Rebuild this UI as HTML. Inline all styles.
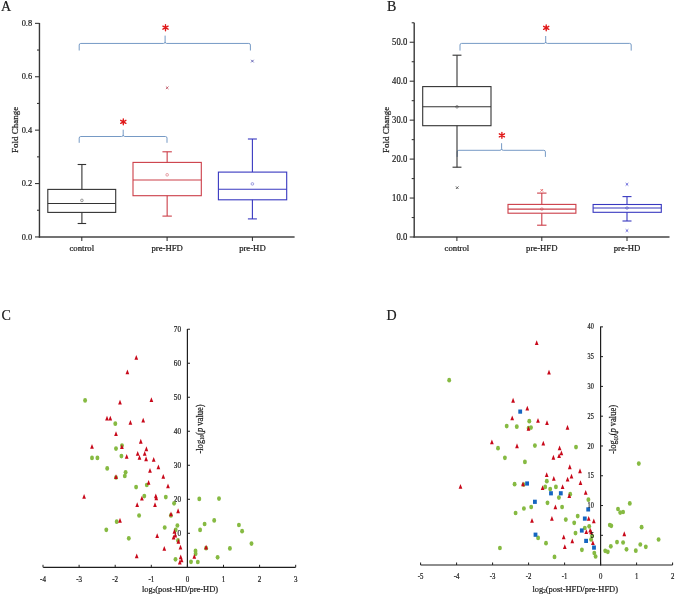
<!DOCTYPE html>
<html><head><meta charset="utf-8"><style>
html,body{margin:0;padding:0;background:#fff;width:675px;height:595px;overflow:hidden;}
svg{display:block;font-family:"Liberation Serif",serif;will-change:transform;}
text{fill:#1a1a1a;stroke:#1a1a1a;stroke-width:0.22px;}
</style></head><body>
<svg width="675" height="595" viewBox="0 0 675 595">
<rect width="675" height="595" fill="#fff"/>
<line x1="39.45" y1="23.00" x2="39.45" y2="237.60" stroke="#383838" stroke-width="1.4"/>
<line x1="38.80" y1="236.95" x2="294.60" y2="236.95" stroke="#444" stroke-width="1.5"/>
<line x1="35.00" y1="236.95" x2="39.50" y2="236.95" stroke="#383838" stroke-width="1.1"/>
<text transform="translate(32.1,239.50) scale(0.93,1)" font-size="9" text-anchor="end">0.0</text>
<line x1="35.00" y1="183.55" x2="39.50" y2="183.55" stroke="#383838" stroke-width="1.1"/>
<text transform="translate(32.1,186.10) scale(0.93,1)" font-size="9" text-anchor="end">0.2</text>
<line x1="35.00" y1="130.15" x2="39.50" y2="130.15" stroke="#383838" stroke-width="1.1"/>
<text transform="translate(32.1,132.70) scale(0.93,1)" font-size="9" text-anchor="end">0.4</text>
<line x1="35.00" y1="76.75" x2="39.50" y2="76.75" stroke="#383838" stroke-width="1.1"/>
<text transform="translate(32.1,79.30) scale(0.93,1)" font-size="9" text-anchor="end">0.6</text>
<line x1="35.00" y1="23.35" x2="39.50" y2="23.35" stroke="#383838" stroke-width="1.1"/>
<text transform="translate(32.1,25.90) scale(0.93,1)" font-size="9" text-anchor="end">0.8</text>
<line x1="37.00" y1="210.25" x2="39.50" y2="210.25" stroke="#383838" stroke-width="1.1"/>
<line x1="37.00" y1="156.85" x2="39.50" y2="156.85" stroke="#383838" stroke-width="1.1"/>
<line x1="37.00" y1="103.45" x2="39.50" y2="103.45" stroke="#383838" stroke-width="1.1"/>
<line x1="37.00" y1="50.05" x2="39.50" y2="50.05" stroke="#383838" stroke-width="1.1"/>
<line x1="81.80" y1="237.00" x2="81.80" y2="241.00" stroke="#2b2b2b" stroke-width="1"/>
<text x="81.8" y="251.2" font-size="8.7" text-anchor="middle" >control</text>
<line x1="167.10" y1="237.00" x2="167.10" y2="241.00" stroke="#2b2b2b" stroke-width="1"/>
<text x="167.1" y="251.2" font-size="8.7" text-anchor="middle" >pre-HFD</text>
<line x1="252.40" y1="237.00" x2="252.40" y2="241.00" stroke="#2b2b2b" stroke-width="1"/>
<text x="252.4" y="251.2" font-size="8.7" text-anchor="middle" >pre-HD</text>
<text transform="translate(17.6,129.8) rotate(-90)" font-size="9" text-anchor="middle">Fold Change</text>
<text x="1" y="10.8" font-size="14" text-anchor="start" >A</text>
<path d="M79.2 50.5L79.2 45.050000000000004Q79.2 43.45 80.8 43.45L163.5 43.45Q165.1 43.45 165.1 41.85L165.1 35.6M165.1 41.85Q165.1 43.45 166.7 43.45L248.8 43.45Q250.4 43.45 250.4 45.050000000000004L250.4 50.5" stroke="#6f95c2" stroke-width="0.95" fill="none"/>
<path d="M79.2 142.8L79.2 138.1Q79.2 136.5 80.8 136.5L121.60000000000001 136.5Q123.2 136.5 123.2 134.9L123.2 129.7M123.2 134.9Q123.2 136.5 124.8 136.5L165.4 136.5Q167.0 136.5 167.0 138.1L167.0 142.8" stroke="#6f95c2" stroke-width="0.95" fill="none"/>
<path d="M165.50 24.70L165.50 30.70M162.90 26.20L168.10 29.20M168.10 26.20L162.90 29.20" stroke="#e01818" stroke-width="1.35" stroke-linecap="round" fill="none"/>
<path d="M123.30 118.80L123.30 124.80M120.70 120.30L125.90 123.30M125.90 120.30L120.70 123.30" stroke="#e01818" stroke-width="1.35" stroke-linecap="round" fill="none"/>
<rect x="47.8" y="189.4" width="67.9" height="23.0" fill="none" stroke="#333333" stroke-width="1.1"/>
<line x1="47.80" y1="203.50" x2="115.70" y2="203.50" stroke="#333333" stroke-width="1.1"/>
<line x1="81.90" y1="189.40" x2="81.90" y2="164.50" stroke="#333333" stroke-width="1.1"/>
<line x1="81.90" y1="212.40" x2="81.90" y2="223.50" stroke="#333333" stroke-width="1.1"/>
<line x1="77.65" y1="164.50" x2="86.15" y2="164.50" stroke="#333333" stroke-width="1.1"/>
<line x1="77.65" y1="223.50" x2="86.15" y2="223.50" stroke="#333333" stroke-width="1.1"/>
<rect x="80.7" y="199.20000000000002" width="2.4" height="2.4" rx="0.8" fill="none" stroke="#333333" stroke-width="0.6" opacity="0.8"/>
<rect x="133.0" y="162.4" width="68.30000000000001" height="33.29999999999998" fill="none" stroke="#cc3e48" stroke-width="1.1"/>
<line x1="133.00" y1="180.00" x2="201.30" y2="180.00" stroke="#cc3e48" stroke-width="1.1"/>
<line x1="167.15" y1="162.40" x2="167.15" y2="151.80" stroke="#cc3e48" stroke-width="1.1"/>
<line x1="167.15" y1="195.70" x2="167.15" y2="216.10" stroke="#cc3e48" stroke-width="1.1"/>
<line x1="162.45" y1="151.80" x2="171.85" y2="151.80" stroke="#cc3e48" stroke-width="1.1"/>
<line x1="162.45" y1="216.10" x2="171.85" y2="216.10" stroke="#cc3e48" stroke-width="1.1"/>
<rect x="165.95000000000002" y="173.60000000000002" width="2.4" height="2.4" rx="0.8" fill="none" stroke="#cc3e48" stroke-width="0.6" opacity="0.8"/>
<rect x="218.4" y="172.1" width="68.29999999999998" height="27.700000000000017" fill="none" stroke="#3838c0" stroke-width="1.1"/>
<line x1="218.40" y1="189.30" x2="286.70" y2="189.30" stroke="#3838c0" stroke-width="1.1"/>
<line x1="252.40" y1="172.10" x2="252.40" y2="139.00" stroke="#3838c0" stroke-width="1.1"/>
<line x1="252.40" y1="199.80" x2="252.40" y2="218.90" stroke="#3838c0" stroke-width="1.1"/>
<line x1="247.90" y1="139.00" x2="256.90" y2="139.00" stroke="#3838c0" stroke-width="1.1"/>
<line x1="247.90" y1="218.90" x2="256.90" y2="218.90" stroke="#3838c0" stroke-width="1.1"/>
<rect x="251.20000000000002" y="182.70000000000002" width="2.4" height="2.4" rx="0.8" fill="none" stroke="#3838c0" stroke-width="0.6" opacity="0.8"/>
<path d="M165.89999999999998 86.5L168.5 89.1M165.89999999999998 89.1L168.5 86.5" stroke="#b84858" stroke-width="0.8" fill="none"/>
<path d="M251.1 59.800000000000004L253.70000000000002 62.4M251.1 62.4L253.70000000000002 59.800000000000004" stroke="#4848a8" stroke-width="0.8" fill="none"/>
<line x1="414.20" y1="22.80" x2="414.20" y2="237.60" stroke="#383838" stroke-width="1.4"/>
<line x1="413.50" y1="236.95" x2="669.50" y2="236.95" stroke="#444" stroke-width="1.5"/>
<line x1="409.70" y1="237.00" x2="414.20" y2="237.00" stroke="#383838" stroke-width="1.1"/>
<text transform="translate(407.2,239.85) scale(0.9,1)" font-size="9.6" text-anchor="end">0.0</text>
<line x1="409.70" y1="198.05" x2="414.20" y2="198.05" stroke="#383838" stroke-width="1.1"/>
<text transform="translate(407.2,200.90) scale(0.9,1)" font-size="9.6" text-anchor="end">10.0</text>
<line x1="409.70" y1="159.10" x2="414.20" y2="159.10" stroke="#383838" stroke-width="1.1"/>
<text transform="translate(407.2,161.95) scale(0.9,1)" font-size="9.6" text-anchor="end">20.0</text>
<line x1="409.70" y1="120.15" x2="414.20" y2="120.15" stroke="#383838" stroke-width="1.1"/>
<text transform="translate(407.2,123.00) scale(0.9,1)" font-size="9.6" text-anchor="end">30.0</text>
<line x1="409.70" y1="81.20" x2="414.20" y2="81.20" stroke="#383838" stroke-width="1.1"/>
<text transform="translate(407.2,84.05) scale(0.9,1)" font-size="9.6" text-anchor="end">40.0</text>
<line x1="409.70" y1="42.25" x2="414.20" y2="42.25" stroke="#383838" stroke-width="1.1"/>
<text transform="translate(407.2,45.10) scale(0.9,1)" font-size="9.6" text-anchor="end">50.0</text>
<line x1="411.70" y1="217.53" x2="414.20" y2="217.53" stroke="#383838" stroke-width="1.1"/>
<line x1="411.70" y1="178.57" x2="414.20" y2="178.57" stroke="#383838" stroke-width="1.1"/>
<line x1="411.70" y1="139.62" x2="414.20" y2="139.62" stroke="#383838" stroke-width="1.1"/>
<line x1="411.70" y1="100.67" x2="414.20" y2="100.67" stroke="#383838" stroke-width="1.1"/>
<line x1="411.70" y1="61.72" x2="414.20" y2="61.72" stroke="#383838" stroke-width="1.1"/>
<line x1="411.70" y1="22.77" x2="414.20" y2="22.77" stroke="#383838" stroke-width="1.1"/>
<line x1="456.90" y1="236.90" x2="456.90" y2="241.00" stroke="#2b2b2b" stroke-width="1"/>
<text x="456.9" y="251.2" font-size="8.7" text-anchor="middle" >control</text>
<line x1="541.80" y1="236.90" x2="541.80" y2="241.00" stroke="#2b2b2b" stroke-width="1"/>
<text x="541.8" y="251.2" font-size="8.7" text-anchor="middle" >pre-HFD</text>
<line x1="627.00" y1="236.90" x2="627.00" y2="241.00" stroke="#2b2b2b" stroke-width="1"/>
<text x="627.0" y="251.2" font-size="8.7" text-anchor="middle" >pre-HD</text>
<text transform="translate(388.6,129.8) rotate(-90)" font-size="9" text-anchor="middle">Fold Change</text>
<text x="387" y="10.7" font-size="14" text-anchor="start" >B</text>
<path d="M460.0 50.6L460.0 45.0Q460.0 43.4 461.6 43.4L544.1 43.4Q545.7 43.4 545.7 41.8L545.7 36.0M545.7 41.8Q545.7 43.4 547.3000000000001 43.4L629.6 43.4Q631.2 43.4 631.2 45.0L631.2 50.6" stroke="#6f95c2" stroke-width="0.95" fill="none"/>
<path d="M457.2 156.9L457.2 151.9Q457.2 150.3 458.8 150.3L500.0 150.3Q501.6 150.3 501.6 148.70000000000002L501.6 143.2M501.6 148.70000000000002Q501.6 150.3 503.20000000000005 150.3L543.8 150.3Q545.4 150.3 545.4 151.9L545.4 156.9" stroke="#6f95c2" stroke-width="0.95" fill="none"/>
<path d="M546.20 24.80L546.20 30.80M543.60 26.30L548.80 29.30M548.80 26.30L543.60 29.30" stroke="#e01818" stroke-width="1.35" stroke-linecap="round" fill="none"/>
<path d="M501.90 132.30L501.90 138.30M499.30 133.80L504.50 136.80M504.50 133.80L499.30 136.80" stroke="#e01818" stroke-width="1.35" stroke-linecap="round" fill="none"/>
<rect x="422.7" y="86.6" width="68.30000000000001" height="39.10000000000001" fill="none" stroke="#333333" stroke-width="1.1"/>
<line x1="422.70" y1="106.80" x2="491.00" y2="106.80" stroke="#333333" stroke-width="1.1"/>
<line x1="457.00" y1="86.60" x2="457.00" y2="55.20" stroke="#333333" stroke-width="1.1"/>
<line x1="457.00" y1="125.70" x2="457.00" y2="167.20" stroke="#333333" stroke-width="1.1"/>
<line x1="452.55" y1="55.20" x2="461.45" y2="55.20" stroke="#333333" stroke-width="1.1"/>
<line x1="452.55" y1="167.20" x2="461.45" y2="167.20" stroke="#333333" stroke-width="1.1"/>
<rect x="455.8" y="105.6" width="2.4" height="2.4" rx="0.8" fill="none" stroke="#333333" stroke-width="0.6" opacity="0.8"/>
<rect x="508.0" y="204.4" width="67.89999999999998" height="8.799999999999983" fill="none" stroke="#cc3e48" stroke-width="1.1"/>
<line x1="508.00" y1="209.10" x2="575.90" y2="209.10" stroke="#cc3e48" stroke-width="1.1"/>
<line x1="541.80" y1="204.40" x2="541.80" y2="193.10" stroke="#cc3e48" stroke-width="1.1"/>
<line x1="541.80" y1="213.20" x2="541.80" y2="225.20" stroke="#cc3e48" stroke-width="1.1"/>
<line x1="537.10" y1="193.10" x2="546.50" y2="193.10" stroke="#cc3e48" stroke-width="1.1"/>
<line x1="537.10" y1="225.20" x2="546.50" y2="225.20" stroke="#cc3e48" stroke-width="1.1"/>
<rect x="540.5999999999999" y="207.9" width="2.4" height="2.4" rx="0.8" fill="none" stroke="#cc3e48" stroke-width="0.6" opacity="0.8"/>
<rect x="593.1" y="204.5" width="68.19999999999993" height="7.800000000000011" fill="none" stroke="#3838c0" stroke-width="1.1"/>
<line x1="593.10" y1="208.00" x2="661.30" y2="208.00" stroke="#3838c0" stroke-width="1.1"/>
<line x1="627.00" y1="204.50" x2="627.00" y2="196.60" stroke="#3838c0" stroke-width="1.1"/>
<line x1="627.00" y1="212.30" x2="627.00" y2="221.00" stroke="#3838c0" stroke-width="1.1"/>
<line x1="622.50" y1="196.60" x2="631.50" y2="196.60" stroke="#3838c0" stroke-width="1.1"/>
<line x1="622.50" y1="221.00" x2="631.50" y2="221.00" stroke="#3838c0" stroke-width="1.1"/>
<rect x="625.8" y="206.8" width="2.4" height="2.4" rx="0.8" fill="none" stroke="#3838c0" stroke-width="0.6" opacity="0.8"/>
<path d="M455.9 186.39999999999998L458.5 189.0M455.9 189.0L458.5 186.39999999999998" stroke="#404040" stroke-width="0.8" fill="none"/>
<path d="M540.5 189.0L543.0999999999999 191.60000000000002M540.5 191.60000000000002L543.0999999999999 189.0" stroke="#e05050" stroke-width="0.8" fill="none"/>
<path d="M625.7 183.0L628.3 185.60000000000002M625.7 185.60000000000002L628.3 183.0" stroke="#4040d0" stroke-width="0.8" fill="none"/>
<path d="M625.7 229.29999999999998L628.3 231.9M625.7 231.9L628.3 229.29999999999998" stroke="#4040d0" stroke-width="0.8" fill="none"/>
<line x1="187.40" y1="329.00" x2="187.40" y2="567.60" stroke="#1e1e1e" stroke-width="1.2"/>
<line x1="43.20" y1="567.30" x2="295.60" y2="567.30" stroke="#1e1e1e" stroke-width="1.2"/>
<line x1="187.40" y1="533.29" x2="190.00" y2="533.29" stroke="#1e1e1e" stroke-width="1"/>
<text transform="translate(181.0,536.0) scale(0.9,1)" font-size="8" text-anchor="end">10</text>
<line x1="187.40" y1="499.28" x2="190.00" y2="499.28" stroke="#1e1e1e" stroke-width="1"/>
<text transform="translate(181.0,502.0) scale(0.9,1)" font-size="8" text-anchor="end">20</text>
<line x1="187.40" y1="465.27" x2="190.00" y2="465.27" stroke="#1e1e1e" stroke-width="1"/>
<text transform="translate(181.0,468.0) scale(0.9,1)" font-size="8" text-anchor="end">30</text>
<line x1="187.40" y1="431.26" x2="190.00" y2="431.26" stroke="#1e1e1e" stroke-width="1"/>
<text transform="translate(181.0,434.0) scale(0.9,1)" font-size="8" text-anchor="end">40</text>
<line x1="187.40" y1="397.25" x2="190.00" y2="397.25" stroke="#1e1e1e" stroke-width="1"/>
<text transform="translate(181.0,399.9) scale(0.9,1)" font-size="8" text-anchor="end">50</text>
<line x1="187.40" y1="363.24" x2="190.00" y2="363.24" stroke="#1e1e1e" stroke-width="1"/>
<text transform="translate(181.0,365.9) scale(0.9,1)" font-size="8" text-anchor="end">60</text>
<line x1="187.40" y1="329.23" x2="190.00" y2="329.23" stroke="#1e1e1e" stroke-width="1"/>
<text transform="translate(181.0,331.9) scale(0.9,1)" font-size="8" text-anchor="end">70</text>
<line x1="43.00" y1="567.30" x2="43.00" y2="564.80" stroke="#1e1e1e" stroke-width="1"/>
<text transform="translate(43.0,581.8) scale(0.88,1)" font-size="8" text-anchor="middle">-4</text>
<line x1="79.10" y1="567.30" x2="79.10" y2="564.80" stroke="#1e1e1e" stroke-width="1"/>
<text transform="translate(79.1,581.8) scale(0.88,1)" font-size="8" text-anchor="middle">-3</text>
<line x1="115.20" y1="567.30" x2="115.20" y2="564.80" stroke="#1e1e1e" stroke-width="1"/>
<text transform="translate(115.2,581.8) scale(0.88,1)" font-size="8" text-anchor="middle">-2</text>
<line x1="151.30" y1="567.30" x2="151.30" y2="564.80" stroke="#1e1e1e" stroke-width="1"/>
<text transform="translate(151.3,581.8) scale(0.88,1)" font-size="8" text-anchor="middle">-1</text>
<line x1="187.40" y1="567.30" x2="187.40" y2="564.80" stroke="#1e1e1e" stroke-width="1"/>
<text transform="translate(187.4,581.8) scale(0.88,1)" font-size="8" text-anchor="middle">0</text>
<line x1="223.50" y1="567.30" x2="223.50" y2="564.80" stroke="#1e1e1e" stroke-width="1"/>
<text transform="translate(223.5,581.8) scale(0.88,1)" font-size="8" text-anchor="middle">1</text>
<line x1="259.60" y1="567.30" x2="259.60" y2="564.80" stroke="#1e1e1e" stroke-width="1"/>
<text transform="translate(259.6,581.8) scale(0.88,1)" font-size="8" text-anchor="middle">2</text>
<line x1="295.70" y1="567.30" x2="295.70" y2="564.80" stroke="#1e1e1e" stroke-width="1"/>
<text transform="translate(295.7,581.8) scale(0.88,1)" font-size="8" text-anchor="middle">3</text>
<text x="141.9" y="591.7" font-size="9" textLength="76.2" lengthAdjust="spacingAndGlyphs">log<tspan font-size="5.5" dy="1.6">2</tspan><tspan dy="-1.6">(post-HD/pre-HD)</tspan></text>
<text transform="translate(202.6,453.6) rotate(-90)" font-size="9.6" textLength="49.3" lengthAdjust="spacingAndGlyphs">-log<tspan font-size="5.5" dy="1.6">10</tspan><tspan dy="-1.6">(</tspan><tspan font-style="italic">p</tspan> value)</text>
<text x="1.6" y="320.0" font-size="14" text-anchor="start" >C</text>
<ellipse cx="85.1" cy="400.4" rx="1.95" ry="2.35" fill="#86ba42"/>
<ellipse cx="115.3" cy="423.7" rx="1.95" ry="2.35" fill="#86ba42"/>
<ellipse cx="116.0" cy="448.6" rx="1.95" ry="2.35" fill="#86ba42"/>
<ellipse cx="121.4" cy="456.1" rx="1.95" ry="2.35" fill="#86ba42"/>
<ellipse cx="92.0" cy="457.9" rx="1.95" ry="2.35" fill="#86ba42"/>
<ellipse cx="97.4" cy="457.9" rx="1.95" ry="2.35" fill="#86ba42"/>
<ellipse cx="107.2" cy="468.4" rx="1.95" ry="2.35" fill="#86ba42"/>
<ellipse cx="125.6" cy="472.3" rx="1.95" ry="2.35" fill="#86ba42"/>
<ellipse cx="124.8" cy="476.0" rx="1.95" ry="2.35" fill="#86ba42"/>
<ellipse cx="116.0" cy="477.5" rx="1.95" ry="2.35" fill="#86ba42"/>
<ellipse cx="146.8" cy="485.0" rx="1.95" ry="2.35" fill="#86ba42"/>
<ellipse cx="136.1" cy="487.1" rx="1.95" ry="2.35" fill="#86ba42"/>
<ellipse cx="144.3" cy="496.1" rx="1.95" ry="2.35" fill="#86ba42"/>
<ellipse cx="165.8" cy="497.1" rx="1.95" ry="2.35" fill="#86ba42"/>
<ellipse cx="174.1" cy="503.3" rx="1.95" ry="2.35" fill="#86ba42"/>
<ellipse cx="139.1" cy="515.5" rx="1.95" ry="2.35" fill="#86ba42"/>
<ellipse cx="116.7" cy="521.7" rx="1.95" ry="2.35" fill="#86ba42"/>
<ellipse cx="106.3" cy="529.8" rx="1.95" ry="2.35" fill="#86ba42"/>
<ellipse cx="128.8" cy="538.3" rx="1.95" ry="2.35" fill="#86ba42"/>
<ellipse cx="177.4" cy="525.5" rx="1.95" ry="2.35" fill="#86ba42"/>
<ellipse cx="164.7" cy="527.5" rx="1.95" ry="2.35" fill="#86ba42"/>
<ellipse cx="175.7" cy="529.8" rx="1.95" ry="2.35" fill="#86ba42"/>
<ellipse cx="178.0" cy="540.4" rx="1.95" ry="2.35" fill="#86ba42"/>
<ellipse cx="175.5" cy="559.3" rx="1.95" ry="2.35" fill="#86ba42"/>
<ellipse cx="199.3" cy="498.9" rx="1.95" ry="2.35" fill="#86ba42"/>
<ellipse cx="219.0" cy="498.6" rx="1.95" ry="2.35" fill="#86ba42"/>
<ellipse cx="214.2" cy="520.4" rx="1.95" ry="2.35" fill="#86ba42"/>
<ellipse cx="204.6" cy="524.0" rx="1.95" ry="2.35" fill="#86ba42"/>
<ellipse cx="200.1" cy="529.9" rx="1.95" ry="2.35" fill="#86ba42"/>
<ellipse cx="238.9" cy="525.0" rx="1.95" ry="2.35" fill="#86ba42"/>
<ellipse cx="242.1" cy="531.2" rx="1.95" ry="2.35" fill="#86ba42"/>
<ellipse cx="251.5" cy="543.6" rx="1.95" ry="2.35" fill="#86ba42"/>
<ellipse cx="229.9" cy="548.4" rx="1.95" ry="2.35" fill="#86ba42"/>
<ellipse cx="195.5" cy="550.9" rx="1.95" ry="2.35" fill="#86ba42"/>
<ellipse cx="195.6" cy="553.8" rx="1.95" ry="2.35" fill="#86ba42"/>
<ellipse cx="217.6" cy="557.3" rx="1.95" ry="2.35" fill="#86ba42"/>
<ellipse cx="191.0" cy="561.8" rx="1.95" ry="2.35" fill="#86ba42"/>
<ellipse cx="197.8" cy="562.0" rx="1.95" ry="2.35" fill="#86ba42"/>
<ellipse cx="206.1" cy="548.2" rx="1.95" ry="2.35" fill="#86ba42"/>
<ellipse cx="122.0" cy="445.6" rx="1.95" ry="2.35" fill="#86ba42"/>
<ellipse cx="170.9" cy="515.4" rx="1.95" ry="2.35" fill="#86ba42"/>
<path d="M136.30 354.95L138.15 359.75L134.45 359.75Z" fill="#c8081a"/>
<path d="M127.40 369.55L129.25 374.35L125.55 374.35Z" fill="#c8081a"/>
<path d="M120.00 399.75L121.85 404.55L118.15 404.55Z" fill="#c8081a"/>
<path d="M151.40 397.25L153.25 402.05L149.55 402.05Z" fill="#c8081a"/>
<path d="M107.00 415.75L108.85 420.55L105.15 420.55Z" fill="#c8081a"/>
<path d="M110.30 415.75L112.15 420.55L108.45 420.55Z" fill="#c8081a"/>
<path d="M130.40 420.05L132.25 424.85L128.55 424.85Z" fill="#c8081a"/>
<path d="M143.20 417.75L145.05 422.55L141.35 422.55Z" fill="#c8081a"/>
<path d="M116.00 431.15L117.85 435.95L114.15 435.95Z" fill="#c8081a"/>
<path d="M92.00 444.05L93.85 448.85L90.15 448.85Z" fill="#c8081a"/>
<path d="M121.90 444.25L123.75 449.05L120.05 449.05Z" fill="#c8081a"/>
<path d="M140.80 438.85L142.65 443.65L138.95 443.65Z" fill="#c8081a"/>
<path d="M146.40 446.35L148.25 451.15L144.55 451.15Z" fill="#c8081a"/>
<path d="M137.70 450.95L139.55 455.75L135.85 455.75Z" fill="#c8081a"/>
<path d="M139.50 455.05L141.35 459.85L137.65 459.85Z" fill="#c8081a"/>
<path d="M144.70 450.95L146.55 455.75L142.85 455.75Z" fill="#c8081a"/>
<path d="M146.10 456.35L147.95 461.15L144.25 461.15Z" fill="#c8081a"/>
<path d="M153.70 457.05L155.55 461.85L151.85 461.85Z" fill="#c8081a"/>
<path d="M158.40 464.55L160.25 469.35L156.55 469.35Z" fill="#c8081a"/>
<path d="M126.70 454.05L128.55 458.85L124.85 458.85Z" fill="#c8081a"/>
<path d="M150.00 468.05L151.85 472.85L148.15 472.85Z" fill="#c8081a"/>
<path d="M116.00 474.15L117.85 478.95L114.15 478.95Z" fill="#c8081a"/>
<path d="M163.30 473.95L165.15 478.75L161.45 478.75Z" fill="#c8081a"/>
<path d="M148.60 480.05L150.45 484.85L146.75 484.85Z" fill="#c8081a"/>
<path d="M168.00 483.55L169.85 488.35L166.15 488.35Z" fill="#c8081a"/>
<path d="M84.10 494.05L85.95 498.85L82.25 498.85Z" fill="#c8081a"/>
<path d="M141.90 495.75L143.75 500.55L140.05 500.55Z" fill="#c8081a"/>
<path d="M155.80 493.55L157.65 498.35L153.95 498.35Z" fill="#c8081a"/>
<path d="M156.30 495.45L158.15 500.25L154.45 500.25Z" fill="#c8081a"/>
<path d="M137.20 502.25L139.05 507.05L135.35 507.05Z" fill="#c8081a"/>
<path d="M155.00 502.25L156.85 507.05L153.15 507.05Z" fill="#c8081a"/>
<path d="M171.00 511.55L172.85 516.35L169.15 516.35Z" fill="#c8081a"/>
<path d="M178.10 508.35L179.95 513.15L176.25 513.15Z" fill="#c8081a"/>
<path d="M120.00 517.85L121.85 522.65L118.15 522.65Z" fill="#c8081a"/>
<path d="M174.40 528.95L176.25 533.75L172.55 533.75Z" fill="#c8081a"/>
<path d="M175.30 532.65L177.15 537.45L173.45 537.45Z" fill="#c8081a"/>
<path d="M173.60 534.75L175.45 539.55L171.75 539.55Z" fill="#c8081a"/>
<path d="M157.20 533.15L159.05 537.95L155.35 537.95Z" fill="#c8081a"/>
<path d="M178.40 538.85L180.25 543.65L176.55 543.65Z" fill="#c8081a"/>
<path d="M180.50 544.75L182.35 549.55L178.65 549.55Z" fill="#c8081a"/>
<path d="M164.30 546.05L166.15 550.85L162.45 550.85Z" fill="#c8081a"/>
<path d="M136.70 553.55L138.55 558.35L134.85 558.35Z" fill="#c8081a"/>
<path d="M180.70 554.55L182.55 559.35L178.85 559.35Z" fill="#c8081a"/>
<path d="M181.60 557.55L183.45 562.35L179.75 562.35Z" fill="#c8081a"/>
<path d="M179.80 559.65L181.65 564.45L177.95 564.45Z" fill="#c8081a"/>
<path d="M206.10 544.75L207.95 549.55L204.25 549.55Z" fill="#c8081a"/>
<path d="M194.30 553.95L196.15 558.75L192.45 558.75Z" fill="#c8081a"/>
<line x1="600.60" y1="326.50" x2="600.60" y2="565.40" stroke="#1e1e1e" stroke-width="1.2"/>
<line x1="420.60" y1="565.00" x2="672.60" y2="565.00" stroke="#1e1e1e" stroke-width="1.2"/>
<ellipse cx="449.2" cy="380.2" rx="1.95" ry="2.35" fill="#86ba42"/>
<ellipse cx="529.3" cy="421.2" rx="1.95" ry="2.35" fill="#86ba42"/>
<ellipse cx="506.7" cy="426.1" rx="1.95" ry="2.35" fill="#86ba42"/>
<ellipse cx="516.8" cy="426.7" rx="1.95" ry="2.35" fill="#86ba42"/>
<ellipse cx="531.0" cy="427.6" rx="1.95" ry="2.35" fill="#86ba42"/>
<ellipse cx="534.9" cy="445.6" rx="1.95" ry="2.35" fill="#86ba42"/>
<ellipse cx="576.0" cy="447.1" rx="1.95" ry="2.35" fill="#86ba42"/>
<ellipse cx="498.0" cy="448.2" rx="1.95" ry="2.35" fill="#86ba42"/>
<ellipse cx="504.9" cy="457.8" rx="1.95" ry="2.35" fill="#86ba42"/>
<ellipse cx="524.9" cy="461.9" rx="1.95" ry="2.35" fill="#86ba42"/>
<ellipse cx="514.6" cy="484.2" rx="1.95" ry="2.35" fill="#86ba42"/>
<ellipse cx="546.8" cy="481.2" rx="1.95" ry="2.35" fill="#86ba42"/>
<ellipse cx="545.2" cy="486.9" rx="1.95" ry="2.35" fill="#86ba42"/>
<ellipse cx="550.2" cy="489.0" rx="1.95" ry="2.35" fill="#86ba42"/>
<ellipse cx="555.9" cy="486.9" rx="1.95" ry="2.35" fill="#86ba42"/>
<ellipse cx="570.2" cy="494.2" rx="1.95" ry="2.35" fill="#86ba42"/>
<ellipse cx="558.9" cy="497.6" rx="1.95" ry="2.35" fill="#86ba42"/>
<ellipse cx="547.5" cy="502.8" rx="1.95" ry="2.35" fill="#86ba42"/>
<ellipse cx="531.2" cy="507.0" rx="1.95" ry="2.35" fill="#86ba42"/>
<ellipse cx="523.9" cy="508.5" rx="1.95" ry="2.35" fill="#86ba42"/>
<ellipse cx="515.6" cy="513.0" rx="1.95" ry="2.35" fill="#86ba42"/>
<ellipse cx="588.4" cy="499.7" rx="1.95" ry="2.35" fill="#86ba42"/>
<ellipse cx="562.1" cy="507.0" rx="1.95" ry="2.35" fill="#86ba42"/>
<ellipse cx="565.8" cy="519.6" rx="1.95" ry="2.35" fill="#86ba42"/>
<ellipse cx="577.7" cy="516.1" rx="1.95" ry="2.35" fill="#86ba42"/>
<ellipse cx="574.2" cy="522.8" rx="1.95" ry="2.35" fill="#86ba42"/>
<ellipse cx="589.2" cy="526.3" rx="1.95" ry="2.35" fill="#86ba42"/>
<ellipse cx="584.8" cy="528.0" rx="1.95" ry="2.35" fill="#86ba42"/>
<ellipse cx="575.5" cy="533.1" rx="1.95" ry="2.35" fill="#86ba42"/>
<ellipse cx="538.1" cy="537.9" rx="1.95" ry="2.35" fill="#86ba42"/>
<ellipse cx="592.0" cy="536.1" rx="1.95" ry="2.35" fill="#86ba42"/>
<ellipse cx="591.1" cy="539.5" rx="1.95" ry="2.35" fill="#86ba42"/>
<ellipse cx="546.0" cy="543.2" rx="1.95" ry="2.35" fill="#86ba42"/>
<ellipse cx="581.9" cy="549.8" rx="1.95" ry="2.35" fill="#86ba42"/>
<ellipse cx="594.3" cy="553.0" rx="1.95" ry="2.35" fill="#86ba42"/>
<ellipse cx="595.6" cy="556.5" rx="1.95" ry="2.35" fill="#86ba42"/>
<ellipse cx="554.5" cy="556.9" rx="1.95" ry="2.35" fill="#86ba42"/>
<ellipse cx="499.9" cy="548.0" rx="1.95" ry="2.35" fill="#86ba42"/>
<ellipse cx="638.8" cy="463.6" rx="1.95" ry="2.35" fill="#86ba42"/>
<ellipse cx="629.8" cy="503.4" rx="1.95" ry="2.35" fill="#86ba42"/>
<ellipse cx="618.0" cy="509.0" rx="1.95" ry="2.35" fill="#86ba42"/>
<ellipse cx="620.2" cy="512.6" rx="1.95" ry="2.35" fill="#86ba42"/>
<ellipse cx="623.1" cy="512.0" rx="1.95" ry="2.35" fill="#86ba42"/>
<ellipse cx="609.8" cy="525.0" rx="1.95" ry="2.35" fill="#86ba42"/>
<ellipse cx="611.3" cy="525.8" rx="1.95" ry="2.35" fill="#86ba42"/>
<ellipse cx="641.6" cy="527.2" rx="1.95" ry="2.35" fill="#86ba42"/>
<ellipse cx="658.6" cy="539.5" rx="1.95" ry="2.35" fill="#86ba42"/>
<ellipse cx="617.0" cy="542.1" rx="1.95" ry="2.35" fill="#86ba42"/>
<ellipse cx="623.1" cy="542.5" rx="1.95" ry="2.35" fill="#86ba42"/>
<ellipse cx="610.8" cy="546.3" rx="1.95" ry="2.35" fill="#86ba42"/>
<ellipse cx="640.3" cy="544.5" rx="1.95" ry="2.35" fill="#86ba42"/>
<ellipse cx="645.8" cy="546.8" rx="1.95" ry="2.35" fill="#86ba42"/>
<ellipse cx="626.5" cy="549.3" rx="1.95" ry="2.35" fill="#86ba42"/>
<ellipse cx="605.2" cy="550.8" rx="1.95" ry="2.35" fill="#86ba42"/>
<ellipse cx="607.8" cy="551.8" rx="1.95" ry="2.35" fill="#86ba42"/>
<ellipse cx="635.8" cy="550.7" rx="1.95" ry="2.35" fill="#86ba42"/>
<ellipse cx="523.6" cy="484.6" rx="1.95" ry="2.35" fill="#86ba42"/>
<ellipse cx="528.6" cy="428.0" rx="1.95" ry="2.35" fill="#86ba42"/>
<path d="M536.70 340.25L538.55 345.05L534.85 345.05Z" fill="#c8081a"/>
<path d="M549.00 369.75L550.85 374.55L547.15 374.55Z" fill="#c8081a"/>
<path d="M513.10 397.85L514.95 402.65L511.25 402.65Z" fill="#c8081a"/>
<path d="M527.30 405.65L529.15 410.45L525.45 410.45Z" fill="#c8081a"/>
<path d="M512.20 415.45L514.05 420.25L510.35 420.25Z" fill="#c8081a"/>
<path d="M538.00 417.95L539.85 422.75L536.15 422.75Z" fill="#c8081a"/>
<path d="M547.00 420.25L548.85 425.05L545.15 425.05Z" fill="#c8081a"/>
<path d="M528.50 425.95L530.35 430.75L526.65 430.75Z" fill="#c8081a"/>
<path d="M567.50 424.85L569.35 429.65L565.65 429.65Z" fill="#c8081a"/>
<path d="M491.90 439.55L493.75 444.35L490.05 444.35Z" fill="#c8081a"/>
<path d="M517.00 443.35L518.85 448.15L515.15 448.15Z" fill="#c8081a"/>
<path d="M543.30 440.75L545.15 445.55L541.45 445.55Z" fill="#c8081a"/>
<path d="M559.60 445.55L561.45 450.35L557.75 450.35Z" fill="#c8081a"/>
<path d="M561.40 450.45L563.25 455.25L559.55 455.25Z" fill="#c8081a"/>
<path d="M559.10 453.25L560.95 458.05L557.25 458.05Z" fill="#c8081a"/>
<path d="M553.40 454.85L555.25 459.65L551.55 459.65Z" fill="#c8081a"/>
<path d="M569.80 464.35L571.65 469.15L567.95 469.15Z" fill="#c8081a"/>
<path d="M580.00 468.35L581.85 473.15L578.15 473.15Z" fill="#c8081a"/>
<path d="M546.70 472.25L548.55 477.05L544.85 477.05Z" fill="#c8081a"/>
<path d="M553.80 476.05L555.65 480.85L551.95 480.85Z" fill="#c8081a"/>
<path d="M571.50 473.65L573.35 478.45L569.65 478.45Z" fill="#c8081a"/>
<path d="M567.60 476.65L569.45 481.45L565.75 481.45Z" fill="#c8081a"/>
<path d="M580.50 480.25L582.35 485.05L578.65 485.05Z" fill="#c8081a"/>
<path d="M460.50 484.05L462.35 488.85L458.65 488.85Z" fill="#c8081a"/>
<path d="M523.00 481.55L524.85 486.35L521.15 486.35Z" fill="#c8081a"/>
<path d="M542.60 485.15L544.45 489.95L540.75 489.95Z" fill="#c8081a"/>
<path d="M562.60 484.15L564.45 488.95L560.75 488.95Z" fill="#c8081a"/>
<path d="M569.30 493.15L571.15 497.95L567.45 497.95Z" fill="#c8081a"/>
<path d="M585.70 489.95L587.55 494.75L583.85 494.75Z" fill="#c8081a"/>
<path d="M555.40 504.55L557.25 509.35L553.55 509.35Z" fill="#c8081a"/>
<path d="M532.00 517.95L533.85 522.75L530.15 522.75Z" fill="#c8081a"/>
<path d="M551.90 516.05L553.75 520.85L550.05 520.85Z" fill="#c8081a"/>
<path d="M588.70 516.05L590.55 520.85L586.85 520.85Z" fill="#c8081a"/>
<path d="M593.80 518.45L595.65 523.25L591.95 523.25Z" fill="#c8081a"/>
<path d="M586.30 529.15L588.15 533.95L584.45 533.95Z" fill="#c8081a"/>
<path d="M590.20 527.75L592.05 532.55L588.35 532.55Z" fill="#c8081a"/>
<path d="M591.10 529.55L592.95 534.35L589.25 534.35Z" fill="#c8081a"/>
<path d="M563.70 534.55L565.55 539.35L561.85 539.35Z" fill="#c8081a"/>
<path d="M572.30 538.45L574.15 543.25L570.45 543.25Z" fill="#c8081a"/>
<path d="M592.90 540.25L594.75 545.05L591.05 545.05Z" fill="#c8081a"/>
<path d="M564.80 544.15L566.65 548.95L562.95 548.95Z" fill="#c8081a"/>
<path d="M624.30 531.35L626.15 536.15L622.45 536.15Z" fill="#c8081a"/>
<rect x="518.3" y="409.5" width="3.8" height="4.2" fill="#1565c0"/>
<rect x="525.2" y="481.4" width="3.8" height="4.2" fill="#1565c0"/>
<rect x="549.1" y="491.2" width="3.8" height="4.2" fill="#1565c0"/>
<rect x="558.9" y="491.2" width="3.8" height="4.2" fill="#1565c0"/>
<rect x="533.0" y="499.7" width="3.8" height="4.2" fill="#1565c0"/>
<rect x="586.3" y="507.3" width="3.8" height="4.2" fill="#1565c0"/>
<rect x="582.9" y="516.5" width="3.8" height="4.2" fill="#1565c0"/>
<rect x="579.9" y="528.4" width="3.8" height="4.2" fill="#1565c0"/>
<rect x="533.6" y="532.6" width="3.8" height="4.2" fill="#1565c0"/>
<rect x="584.2" y="538.8" width="3.8" height="4.2" fill="#1565c0"/>
<rect x="592.1" y="545.5" width="3.8" height="4.2" fill="#1565c0"/>
<line x1="600.60" y1="535.32" x2="603.00" y2="535.32" stroke="#1e1e1e" stroke-width="1"/>
<text transform="translate(593.8,537.8) scale(0.82,1)" font-size="7.6" text-anchor="end">5</text>
<line x1="600.60" y1="505.54" x2="603.00" y2="505.54" stroke="#1e1e1e" stroke-width="1"/>
<text transform="translate(593.8,508.0) scale(0.82,1)" font-size="7.6" text-anchor="end">10</text>
<line x1="600.60" y1="475.76" x2="603.00" y2="475.76" stroke="#1e1e1e" stroke-width="1"/>
<text transform="translate(593.8,478.3) scale(0.82,1)" font-size="7.6" text-anchor="end">15</text>
<line x1="600.60" y1="445.98" x2="603.00" y2="445.98" stroke="#1e1e1e" stroke-width="1"/>
<text transform="translate(593.8,448.5) scale(0.82,1)" font-size="7.6" text-anchor="end">20</text>
<line x1="600.60" y1="416.20" x2="603.00" y2="416.20" stroke="#1e1e1e" stroke-width="1"/>
<text transform="translate(593.8,418.7) scale(0.82,1)" font-size="7.6" text-anchor="end">25</text>
<line x1="600.60" y1="386.42" x2="603.00" y2="386.42" stroke="#1e1e1e" stroke-width="1"/>
<text transform="translate(593.8,388.9) scale(0.82,1)" font-size="7.6" text-anchor="end">30</text>
<line x1="600.60" y1="356.64" x2="603.00" y2="356.64" stroke="#1e1e1e" stroke-width="1"/>
<text transform="translate(593.8,359.1) scale(0.82,1)" font-size="7.6" text-anchor="end">35</text>
<line x1="600.60" y1="326.86" x2="603.00" y2="326.86" stroke="#1e1e1e" stroke-width="1"/>
<text transform="translate(593.8,329.4) scale(0.82,1)" font-size="7.6" text-anchor="end">40</text>
<line x1="420.60" y1="565.00" x2="420.60" y2="562.50" stroke="#1e1e1e" stroke-width="1"/>
<text transform="translate(420.6,579.0) scale(0.85,1)" font-size="8" text-anchor="middle">-5</text>
<line x1="456.60" y1="565.00" x2="456.60" y2="562.50" stroke="#1e1e1e" stroke-width="1"/>
<text transform="translate(456.6,579.0) scale(0.85,1)" font-size="8" text-anchor="middle">-4</text>
<line x1="492.60" y1="565.00" x2="492.60" y2="562.50" stroke="#1e1e1e" stroke-width="1"/>
<text transform="translate(492.6,579.0) scale(0.85,1)" font-size="8" text-anchor="middle">-3</text>
<line x1="528.60" y1="565.00" x2="528.60" y2="562.50" stroke="#1e1e1e" stroke-width="1"/>
<text transform="translate(528.6,579.0) scale(0.85,1)" font-size="8" text-anchor="middle">-2</text>
<line x1="564.60" y1="565.00" x2="564.60" y2="562.50" stroke="#1e1e1e" stroke-width="1"/>
<text transform="translate(564.6,579.0) scale(0.85,1)" font-size="8" text-anchor="middle">-1</text>
<line x1="600.60" y1="565.00" x2="600.60" y2="562.50" stroke="#1e1e1e" stroke-width="1"/>
<text transform="translate(600.6,579.0) scale(0.85,1)" font-size="8" text-anchor="middle">0</text>
<line x1="636.60" y1="565.00" x2="636.60" y2="562.50" stroke="#1e1e1e" stroke-width="1"/>
<text transform="translate(636.6,579.0) scale(0.85,1)" font-size="8" text-anchor="middle">1</text>
<line x1="672.60" y1="565.00" x2="672.60" y2="562.50" stroke="#1e1e1e" stroke-width="1"/>
<text transform="translate(672.6,579.0) scale(0.85,1)" font-size="8" text-anchor="middle">2</text>
<text x="532.4" y="591.6" font-size="9" textLength="85.6" lengthAdjust="spacingAndGlyphs">log<tspan font-size="5.5" dy="1.6">2</tspan><tspan dy="-1.6">(post-HFD/pre-HFD)</tspan></text>
<text transform="translate(615.9,453.8) rotate(-90)" font-size="9.6" textLength="48.8" lengthAdjust="spacingAndGlyphs">-log<tspan font-size="5.5" dy="1.6">10</tspan><tspan dy="-1.6">(</tspan><tspan font-style="italic">p</tspan> value)</text>
<text x="386.5" y="320.2" font-size="14" text-anchor="start" >D</text>
</svg>
</body></html>
